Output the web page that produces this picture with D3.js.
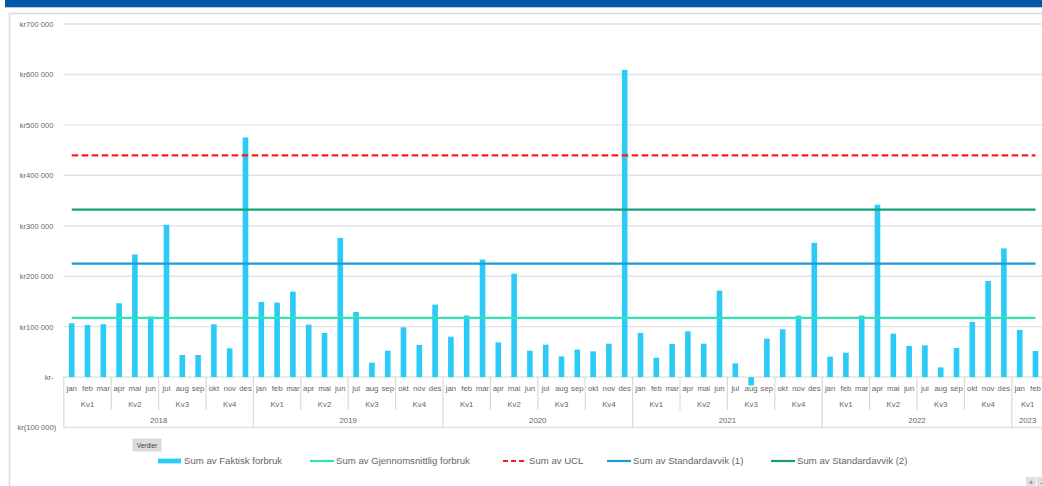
<!DOCTYPE html>
<html><head><meta charset="utf-8">
<script src="https://cdn.jsdelivr.net/npm/d3@7"></script>
<style>
html,body{margin:0;padding:0;background:#fff;overflow:hidden}
svg{display:block;font-family:"Liberation Sans",Arial,sans-serif}
</style></head>
<body><svg id="c" width="1042" height="486"></svg>
<script>
// ---- data ----
const years = ["2018","2019","2020","2021","2022","2023"];
const quarters = ["Kv1","Kv2","Kv3","Kv4"];
const monthNames = ["jan","feb","mar","apr","mai","jun","jul","aug","sep","okt","nov","des"];
const faktisk2018 = [106600,103300,104600,146400,243000,119900,302000,43700,43700,104600,57000,475000];
const faktisk2019 = [149000,147700,169500,104000,87400,276000,129000,28500,52300,98700,63600,143700];
const faktisk2020 = [80000,121900,233000,68900,205000,52300,64200,41000,54300,51000,66200,609000];
const faktisk2021 = [87400,38400,65600,90700,66200,171500,27200,-16600,76200,94700,121900,266000];
const faktisk2022 = [40400,48300,121900,341700,86100,61600,62900,19200,57600,109300,190700,255000];
const faktisk2023 = [93400,51700];
const gjennomsnitt = 117500;
const standardavvik1 = 224800;
const standardavvik2 = 332100;
const ucl = 439400;
const yTicks = [-100000,0,100000,200000,300000,400000,500000,600000,700000];
const legendLabels = ["Sum av Faktisk forbruk","Sum av Gjennomsnittlig forbruk","Sum av UCL","Sum av Standardavvik (1)","Sum av Standardavvik (2)"];

// ---- build rows ----
const faktiskByYear = [faktisk2018,faktisk2019,faktisk2020,faktisk2021,faktisk2022,faktisk2023];
const rows = [];
faktiskByYear.forEach((arr,yi)=>arr.forEach((v,mi)=>rows.push({
  key: years[yi]+"-"+mi, year: years[yi], q: quarters[Math.floor(mi/3)], month: monthNames[mi], value: v,
  avg: gjennomsnitt, sd1: standardavvik1, sd2: standardavvik2, ucl: ucl
})));

const svg = d3.select("#c");
const textCol = "#666666";
const gridCol = "#e3e3e3";
const c = {bar:"#2ccbf7", avg:"#33e3b5", ucl:"#ff1a1a", sd1:"#1d9ad8", sd2:"#17a07c"};

// header + frame
svg.append("rect").attr("x",5).attr("y",0).attr("width",1037).attr("height",7.3).attr("fill","#0158a9");
svg.append("path").attr("d","M9.5,486 V13.5 H1042").attr("fill","none").attr("stroke","#dcdcdc").attr("stroke-width",1.5);

const x = d3.scaleBand().domain(rows.map(d=>d.key)).range([63.8, 63.8+rows.length*15.8]).paddingInner(0).paddingOuter(0);
const y = d3.scaleLinear().domain([-100000,700000]).range([427.5,24]);

// gridlines
svg.append("g").selectAll("line").data(yTicks).join("line")
  .attr("x1",63.5).attr("x2",1044).attr("y1",d=>y(d)).attr("y2",d=>y(d))
  .attr("stroke",gridCol).attr("stroke-width",1.4);

// y labels
const fmt = d3.format(",");
function kr(v){
  const s = fmt(Math.abs(v)).replace(/,/g," ");
  if(v===0) return "kr-";
  return v<0 ? "kr("+s+")" : "kr"+s;
}
const yAxis = d3.axisLeft(y).tickValues(yTicks).tickSize(0).tickPadding(0).tickFormat(kr);
const ya = svg.append("g").attr("transform","translate(53.5,0)").call(yAxis);
ya.select(".domain").remove();
ya.selectAll("text").attr("fill",textCol).attr("font-size",7.6)
  .attr("font-family","'Liberation Sans',Arial,sans-serif")
  .attr("dx",d=>d<0?2.8:0);

// bars
const bw = 5.6;
svg.append("g").selectAll("rect").data(rows).join("rect")
  .attr("x",d=>x(d.key)+x.bandwidth()/2-bw/2).attr("width",bw)
  .attr("y",d=>Math.min(y(d.value),y(0))).attr("height",d=>Math.abs(y(d.value)-y(0)))
  .attr("fill",c.bar);

// category axis separators
const sep = svg.append("g").attr("stroke","#dadada").attr("stroke-width",1.2);
const x0 = x.range()[0];
sep.append("line").attr("x1",x0).attr("x2",x0).attr("y1",y(0)).attr("y2",y(-100000));
rows.forEach((d,i)=>{
  if(i===0) return;
  const xx = x(d.key);
  const mi = monthNames.indexOf(d.month);
  if(mi===0) sep.append("line").attr("x1",xx).attr("x2",xx).attr("y1",y(0)).attr("y2",y(-100000));
  else if(mi%3===0) sep.append("line").attr("x1",xx).attr("x2",xx).attr("y1",y(0)).attr("y2",410);
});

const lab = svg.append("g").attr("fill",textCol).attr("font-size",7.8).attr("text-anchor","middle");
lab.selectAll("text.m").data(rows).join("text").attr("class","m")
  .attr("x",d=>x(d.key)+x.bandwidth()/2).attr("y",390.6).text(d=>d.month);
// quarters
const qGroups = d3.groups(rows, d=>d.year+"|"+d.q);
lab.selectAll("text.q").data(qGroups).join("text").attr("class","q")
  .attr("x",g=>{const a=g[1][0], b=g[1][g[1].length-1]; return (x(a.key)+x(b.key)+x.bandwidth())/2;})
  .attr("y",407).text(g=>g[1][0].q);
const yGroups = d3.groups(rows, d=>d.year);
lab.selectAll("text.y").data(yGroups).join("text").attr("class","y")
  .attr("x",g=>{const a=g[1][0], b=g[1][g[1].length-1]; return (x(a.key)+x(b.key)+x.bandwidth())/2;})
  .attr("y",423.2).text(g=>g[0]);

// lines
const cx = d=>x(d.key)+x.bandwidth()/2;
const series = [
  {k:"avg", col:c.avg, dash:null},
  {k:"sd1", col:c.sd1, dash:null},
  {k:"sd2", col:c.sd2, dash:null},
  {k:"ucl", col:c.ucl, dash:"6.5,3.5"}
];
series.forEach(s=>{
  svg.append("path").datum(rows)
    .attr("d", d3.line().x(cx).y(d=>y(d[s.k])))
    .attr("fill","none").attr("stroke",s.col).attr("stroke-width",2.2)
    .attr("stroke-dasharray",s.dash);
});

// Verdier button
svg.append("rect").attr("x",133).attr("y",439).attr("width",28).attr("height",12).attr("fill","#dcdcdc").attr("stroke","#c8c8c8").attr("stroke-width",0.6);
svg.append("text").attr("x",147).attr("y",447.6).attr("text-anchor","middle").attr("font-size",6.5).attr("fill","#404040").text("Verdier");

// legend
const legX = [158,310,503,607,771];
const lg = svg.append("g");
legendLabels.forEach((t,i)=>{
  const gx = legX[i], gy = 461;
  if(i===0) lg.append("rect").attr("x",gx).attr("y",gy-2.4).attr("width",23).attr("height",4.8).attr("fill",c.bar);
  else {
    const col = [null,c.avg,c.ucl,c.sd1,c.sd2][i];
    lg.append("line").attr("x1",gx).attr("x2",gx+24).attr("y1",gy).attr("y2",gy)
      .attr("stroke",col).attr("stroke-width",2.2).attr("stroke-dasharray",i===2?"5,3":null);
  }
  lg.append("text").attr("x",gx+26).attr("y",gy+3.3).attr("font-size",9.6).attr("fill",textCol).text(t);
});

// +/- buttons
svg.append("rect").attr("x",1026).attr("y",477).attr("width",10).attr("height",9).attr("fill","#e0e0e0");
svg.append("rect").attr("x",1037).attr("y",477).attr("width",6).attr("height",9).attr("fill","#e0e0e0");
svg.append("text").attr("x",1031).attr("y",484.5).attr("text-anchor","middle").attr("font-size",8).attr("fill","#606060").text("+");
svg.append("text").attr("x",1040).attr("y",484.5).attr("font-size",8).attr("fill","#606060").text("-");
</script></body></html>
